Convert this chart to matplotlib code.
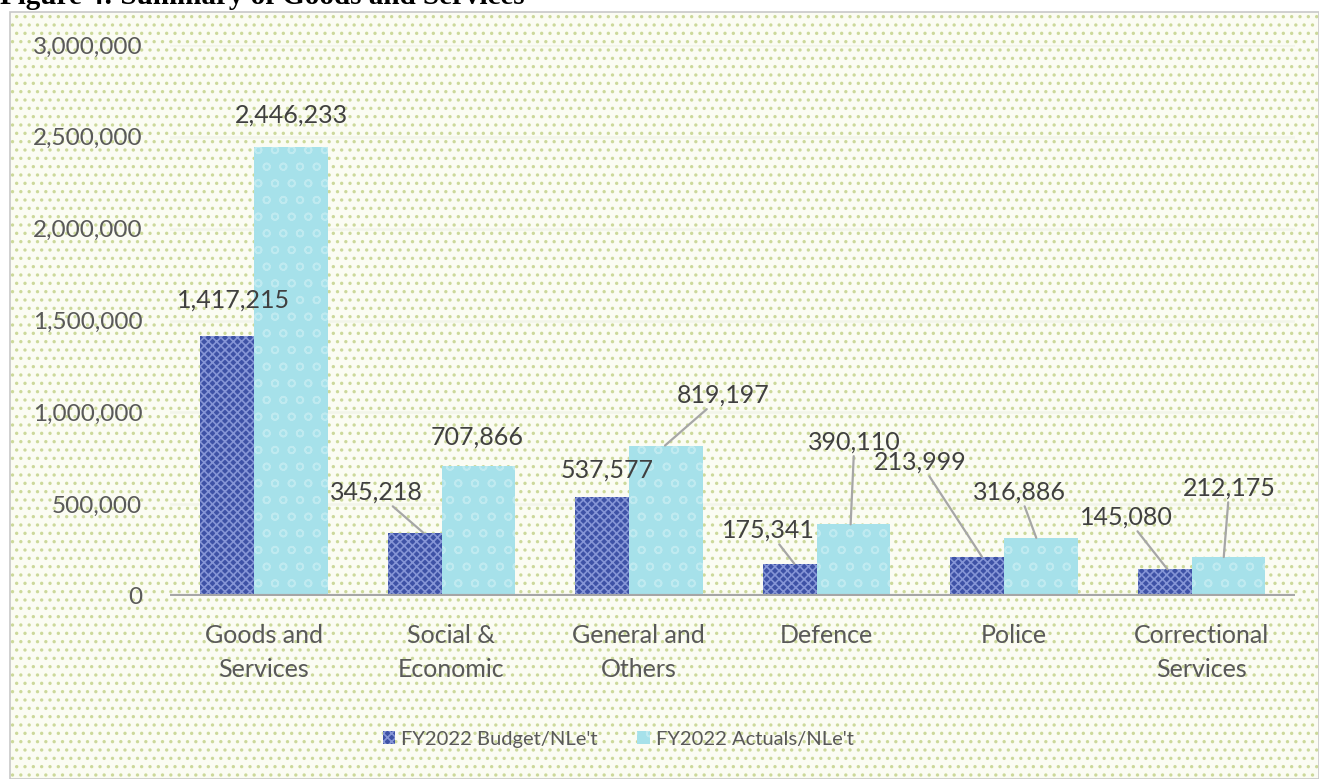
import numpy as np
import matplotlib
matplotlib.use("Agg")
import matplotlib.pyplot as plt
from matplotlib.patches import Rectangle, Patch

plt.rcParams['font.family'] = ['Lato', 'DejaVu Sans']
plt.rcParams['hatch.linewidth'] = 1.2

# --- data ---
categories = ["Goods and\nServices", "Social &\nEconomic", "General and\nOthers",
              "Defence", "Police", "Correctional\nServices"]
budget = [1417215, 345218, 537577, 175341, 213999, 145080]
actuals = [2446233, 707866, 819197, 390110, 316886, 212175]
series_names = ["FY2022 Budget/NLe't", "FY2022 Actuals/NLe't"]
yticks = [0, 500000, 1000000, 1500000, 2000000, 2500000, 3000000]

# --- label layout: (x offset from category, y position, leader x offset or None) ---
budget_lbl = [(-0.16, 1612000, None), (-0.40, 566000, -0.15), (-0.17, 686000, None),
              (-0.31, 359000, -0.17), (-0.50, 730000, -0.17), (-0.40, 430000, -0.18)]
actual_lbl = [(0.15, 2620000, None), (0.14, 866000, None), (0.45, 1095000, 0.14),
              (0.15, 839000, 0.13), (0.03, 566000, 0.12), (0.15, 588000, 0.12)]

fig = plt.figure(figsize=(13.19, 7.79), dpi=100)
fig.patch.set_facecolor('white')

# dotted chart-area background
bg = Rectangle((10 / 1319, 0), 1 - 10 / 1319, 1 - 12 / 779, transform=fig.transFigure,
               facecolor='#fbfcf3', edgecolor='#ccd99a', hatch='..', lw=0, zorder=-10)
fig.patches.append(bg)
border = Rectangle((10 / 1319, 0), 1 - 10 / 1319, 1 - 12 / 779, transform=fig.transFigure,
                   facecolor='none', edgecolor='#c8c8c8', lw=1.2, zorder=-9)
fig.patches.append(border)

# caption, cut off by the top edge as in the source screenshot
fig.text(0.0, 1 - 4 / 779, "Figure 4: Summary of Goods and Services", family='Liberation Serif',
         fontweight='bold', fontsize=21, color='black', va='baseline', ha='left')

ax = fig.add_axes([170 / 1319, 1 - 596 / 779, (1295 - 170) / 1319, (596 - 45) / 779])
ax.set_facecolor('none')

x = np.arange(len(categories))
ax.bar(x - 0.195, budget, width=0.29, facecolor='#3e52a6', edgecolor='#8595d6',
       hatch='xxxx', lw=0, zorder=3)
ax.bar(x + 0.145, actuals, width=0.39, facecolor='#a6e1ea', edgecolor='#bfeaf0',
       hatch='o', lw=0, zorder=3)

ax.set_xlim(-0.5, len(categories) - 0.5)
ax.set_ylim(0, 3000000)
ax.set_yticks(yticks)
ax.set_yticklabels([f"{v:,}" for v in yticks])
ax.set_xticks(x)
ax.set_xticklabels(categories, linespacing=1.6)
ax.tick_params(axis='y', length=0, pad=20, labelsize=17.5, labelcolor='#595959')
ax.tick_params(axis='x', length=0, pad=20, labelsize=18, labelcolor='#595959')
for s in ax.spines.values():
    s.set_visible(False)
ax.yaxis.grid(True, color='#f2f5e9', lw=1.8, zorder=1)
ax.set_axisbelow(True)
ax.axhline(0, color='#a6a6a6', lw=3, zorder=4)

# data labels with leader lines
def put_labels(values, layout):
    for i, (v, (dx, ly, lx)) in enumerate(zip(values, layout)):
        txt = f"{v:,}"
        if lx is None:
            ax.text(i + dx, ly, txt, ha='center', va='center', fontsize=18,
                    color='#404040', zorder=5)
        else:
            ax.annotate(txt, xy=(i + lx, v), xytext=(i + dx, ly), ha='center', va='center',
                        fontsize=18, color='#404040', zorder=5,
                        arrowprops=dict(arrowstyle='-', color='#a6a6a6', lw=1.6,
                                        shrinkA=0, shrinkB=0))

put_labels(budget, budget_lbl)
put_labels(actuals, actual_lbl)

handles = [Patch(facecolor='#3e52a6', edgecolor='#8595d6', hatch='xxxx', lw=0),
           Patch(facecolor='#a6e1ea', edgecolor='#bfeaf0', hatch='o', lw=0)]
fig.legend(handles, series_names, loc='center', bbox_to_anchor=(618 / 1319, 1 - 739 / 779),
           ncol=2, frameon=False, fontsize=14.5, labelcolor='#595959',
           handlelength=0.6, handleheight=0.6, handletextpad=0.3, columnspacing=2.0)

fig.savefig('out.png', dpi=100)
